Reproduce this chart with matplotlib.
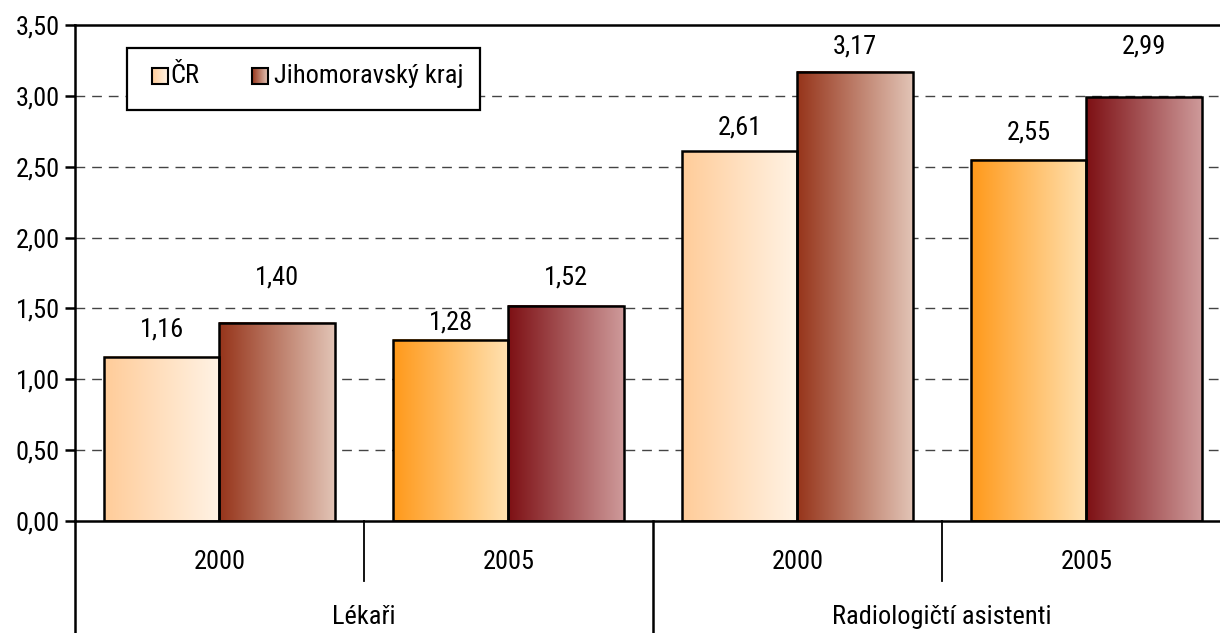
import numpy as np
import matplotlib
matplotlib.use("Agg")
import matplotlib.pyplot as plt
from matplotlib.patches import Rectangle
from matplotlib import font_manager
import matplotlib.transforms as mtransforms
from matplotlib.ticker import FuncFormatter

# pick the narrowest suitable installed sans family
_installed = {f.name: f for f in font_manager.fontManager.ttflist}
_stretches = {}
for f in font_manager.fontManager.ttflist:
    _stretches.setdefault(f.name, set()).add(f.stretch)
FONT = 'Liberation Sans'
STRETCH = 'normal'
for cand in ['Liberation Sans Narrow', 'Arial Narrow', 'Roboto Condensed', 'Open Sans Condensed',
             'Noto Sans Condensed', 'DejaVu Sans Condensed']:
    if cand in _installed:
        FONT = cand
        break
else:
    for nm in ['Liberation Sans', 'Noto Sans', 'Roboto', 'DejaVu Sans']:
        st = _stretches.get(nm, set())
        cond = [s for s in st if str(s) in ('condensed', 'semi-condensed', 'extra-condensed', '500', '400', '300', 400, 300, 500)]
        if cond:
            FONT, STRETCH = nm, cond[0]
            break
plt.rcParams['font.family'] = [FONT, 'DejaVu Sans']
plt.rcParams['font.stretch'] = STRETCH

# ---- data ----
groups = ["Lékaři", "Radiologičtí asistenti"]
years = ["2000", "2005", "2000", "2005"]
series_names = ["ČR", "Jihomoravský kraj"]
cr_values = [1.16, 1.28, 2.61, 2.55]
jmk_values = [1.40, 1.52, 3.17, 2.99]
# label heights (data units) as placed in the original chart
cr_label_y = [1.35, 1.40, 2.78, 2.74]
jmk_label_y = [1.72, 1.72, 3.35, 3.35]

# gradient colours (left -> right)
grad_cr = [((255, 204, 153), (255, 243, 229)), ((255, 153, 26), (255, 226, 178)),
           ((255, 204, 153), (255, 243, 229)), ((255, 153, 26), (255, 226, 178))]
grad_jmk = [((150, 52, 26), (226, 196, 182)), ((125, 16, 20), (206, 154, 154)),
            ((150, 52, 26), (226, 196, 182)), ((125, 16, 20), (206, 154, 154))]

narrow = FONT != 'Liberation Sans' or STRETCH != 'normal'
FS = 19 if narrow else 16

fig = plt.figure(figsize=(12.2, 6.33), dpi=100)
ax = fig.add_axes([75 / 1220, (633 - 521) / 633, (1231 - 75) / 1220, 496 / 633])

x = np.arange(len(years))
w = 0.4


def grad_img(c0, c1, n=256):
    a = np.array(c0) / 255.0
    b = np.array(c1) / 255.0
    t = np.linspace(0, 1, n)[None, :, None]
    return a[None, None, :] * (1 - t) + b[None, None, :] * t


bars_cr = ax.bar(x - w / 2, cr_values, w, facecolor='none', edgecolor='black', linewidth=1.8, zorder=3)
bars_jmk = ax.bar(x + w / 2, jmk_values, w, facecolor='none', edgecolor='black', linewidth=1.8, zorder=3)

for bars, grads in ((bars_cr, grad_cr), (bars_jmk, grad_jmk)):
    for b, (c0, c1) in zip(bars, grads):
        x0, y0 = b.get_x(), b.get_y()
        ax.imshow(grad_img(c0, c1), extent=[x0, x0 + b.get_width(), y0, y0 + b.get_height()],
                  aspect='auto', zorder=2, interpolation='bilinear')

for xi, v, ly in zip(x - w / 2, cr_values, cr_label_y):
    ax.text(xi, ly, f"{v:.2f}".replace('.', ','), ha='center', va='center', fontsize=FS)
for xi, v, ly in zip(x + w / 2, jmk_values, jmk_label_y):
    ax.text(xi, ly, f"{v:.2f}".replace('.', ','), ha='center', va='center', fontsize=FS)

ax.set_xlim(-0.5, 3.5)
ax.set_ylim(0, 3.5)
ax.set_autoscale_on(False)
ax.set_yticks(np.arange(0, 3.51, 0.5))
ax.yaxis.set_major_formatter(FuncFormatter(lambda v, p: f"{v:.2f}".replace('.', ',')))
ax.tick_params(axis='y', direction='out', length=7, width=1.8, labelsize=FS, pad=4)
ax.set_xticks([])
for yv in np.arange(0.5, 3.01, 0.5):
    ax.axhline(yv, color='#444444', lw=1.0, linestyle=(0, (7, 5)), zorder=1)

for s in ['left', 'top', 'bottom']:
    ax.spines[s].set_linewidth(1.8)
ax.spines['right'].set_visible(False)

trans = mtransforms.blended_transform_factory(ax.transData, ax.transAxes)
for xi, yr in zip(x, years):
    ax.text(xi, -0.083, yr, transform=trans, ha='center', va='center', fontsize=FS)
for gi, g in enumerate(groups):
    ax.text(gi * 2 + 0.5, -0.194, g, transform=trans, ha='center', va='center', fontsize=FS)
for xs in [0.5, 2.5]:
    ax.plot([xs, xs], [0, -0.121], transform=trans, color='black', lw=1.3, clip_on=False)
for xs in [-0.5, 1.5, 3.5]:
    ax.plot([xs, xs], [0, -0.23], transform=trans, color='black', lw=1.8, clip_on=False)

# legend
ax.add_patch(Rectangle((0.045, 0.8286), 0.3053, 0.125, transform=ax.transAxes,
                       facecolor='white', edgecolor='black', lw=1.6, zorder=4))
leg_x = [0.0666, 0.1531]
leg_text_x = [0.0822, 0.1725]
leg_grads = [grad_cr[0], grad_jmk[0]]
sq_w, sq_y0, sq_y1 = 0.0135, 0.881, 0.913
for lx, tx, (c0, c1), name in zip(leg_x, leg_text_x, leg_grads, series_names):
    ax.imshow(grad_img(c0, c1), extent=[lx, lx + sq_w, sq_y0, sq_y1], transform=ax.transAxes,
              aspect='auto', zorder=5, interpolation='bilinear')
    ax.add_patch(Rectangle((lx, sq_y0), sq_w, sq_y1 - sq_y0, transform=ax.transAxes,
                           facecolor='none', edgecolor='black', lw=1.5, zorder=6))
    ax.text(tx, 0.897, name, transform=ax.transAxes, ha='left', va='center', fontsize=FS, zorder=6)

ax.set_xlim(-0.5, 3.5)
ax.set_ylim(0, 3.5)

fig.savefig("out.png", dpi=100)
